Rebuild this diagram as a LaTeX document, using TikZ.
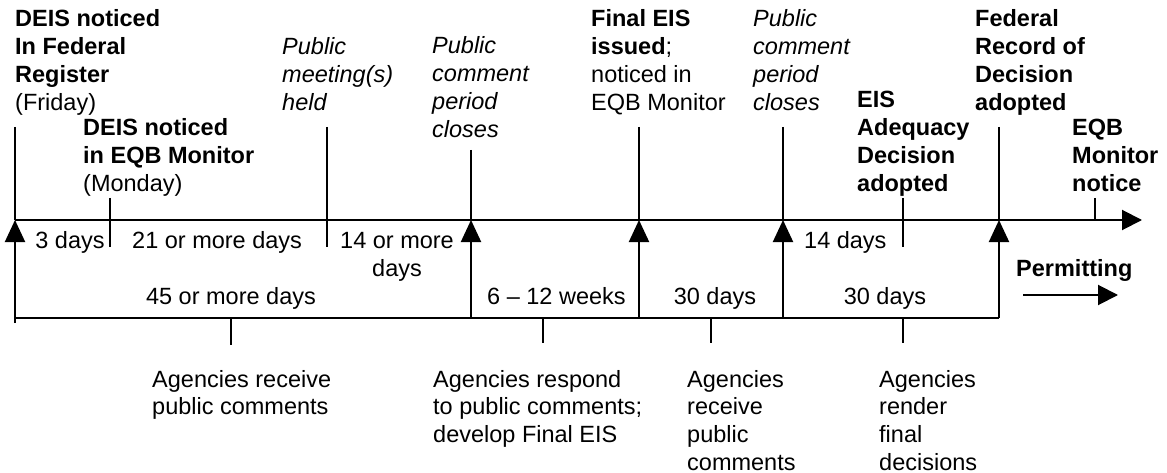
\documentclass[tikz,border=0pt]{standalone}
\usepackage{fontspec}
\setmainfont{Liberation Sans}
\usetikzlibrary{arrows.meta}

\tikzset{
  lbl/.style={align=left, anchor=base west, inner sep=0pt, font=\fontsize{23.5}{28}\selectfont},
  clbl/.style={lbl, align=center, anchor=base},
  ln/.style={line width=2pt},
  uparrow/.style={ln, -{Triangle[length=22pt, width=20pt]}},
  fwdarrow/.style={ln, -{Triangle[length=20pt, width=20pt]}}
}

\begin{document}
\begin{tikzpicture}[x=1pt, y=-1pt]
\useasboundingbox (0,0) rectangle (1167,473);

% event labels above the line (placed by their last line)
\node[lbl] (fri) at (15,111) {\textbf{DEIS noticed}\\\textbf{In Federal}\\\textbf{Register}\\(Friday)};
\node[lbl] (mon) at (83,192) {\textbf{DEIS noticed}\\\textbf{in EQB Monitor}\\(Monday)};
\node[lbl, font=\fontsize{23.5}{28}\selectfont\itshape] (meet) at (282,111) {Public\\meeting(s)\\held};
\node[lbl, font=\fontsize{23.5}{28}\selectfont\itshape] (close1) at (432,138) {Public\\comment\\period\\closes};
\node[lbl] (final) at (591,111) {\textbf{Final EIS}\\\textbf{issued};\\noticed in\\EQB Monitor};
\node[lbl, font=\fontsize{23.5}{28}\selectfont\itshape] (close2) at (753,111) {Public\\comment\\period\\closes};
\node[lbl, font=\fontsize{23.5}{28}\selectfont\bfseries] (adeq) at (857,192) {EIS\\Adequacy\\Decision\\adopted};
\node[lbl, font=\fontsize{23.5}{28}\selectfont\bfseries] (rod) at (975,111) {Federal\\Record of\\Decision\\adopted};
\node[lbl, font=\fontsize{23.5}{28}\selectfont\bfseries] (eqb) at (1072,192) {EQB\\Monitor\\notice};

% points on the time line
\coordinate (start) at (15,220);
\coordinate (end) at (1142,220);
\coordinate (t1) at (110,220);
\coordinate (t2) at (327,220);
\coordinate (t3) at (471,220);
\coordinate (t4) at (639,220);
\coordinate (t5) at (783,220);
\coordinate (t6) at (903,220);
\coordinate (t7) at (999,220);
\coordinate (t8) at (1095,220);
\coordinate (b0) at (15,323);
\coordinate (b3) at (471,318);
\coordinate (b4) at (639,318);
\coordinate (b5) at (783,318);
\coordinate (b7) at (999,318);

\draw[fwdarrow] (start) -- (end);
\draw[ln] (15,318) -- (b7);
\draw[ln] (15,127) -- (start);
\draw[ln] (110,198) -- (110,247);
\draw[ln] (327,127) -- (327,247);
\draw[ln] (471,150) -- (t3);
\draw[ln] (639,127) -- (t4);
\draw[ln] (783,127) -- (t5);
\draw[ln] (903,198) -- (903,247);
\draw[ln] (999,127) -- (t7);
\draw[ln] (1095,198) -- (t8);
\draw[uparrow] (b0) -- (start);
\draw[uparrow] (b3) -- (t3);
\draw[uparrow] (b4) -- (t4);
\draw[uparrow] (b5) -- (t5);
\draw[uparrow] (b7) -- (t7);

% durations
\node[clbl] (d3) at (70,248) {3 days};
\node[lbl] (d21) at (132,248) {21 or more days};
\node[clbl] (d14a) at (397,276) {14 or more\\days};
\node[lbl] (d14b) at (804,248) {14 days};
\node[clbl] (d45) at (231,304) {45 or more days};
\node[lbl] (dwk) at (487,304) {6 -- 12 weeks};
\node[clbl] (d30a) at (715,304) {30 days};
\node[clbl] (d30b) at (885,304) {30 days};

% permitting
\node[lbl, font=\fontsize{23.5}{28}\selectfont\bfseries] (perm) at (1016,276) {Permitting};
\coordinate (pa) at (1023,295);
\coordinate (pb) at (1118,295);
\draw[fwdarrow] (pa) -- (pb);

% agency work below the line
\coordinate (a1) at (231,318);
\coordinate (a2) at (543,318);
\coordinate (a3) at (711,318);
\coordinate (a4) at (903,318);
\draw[ln] (a1) -- (231,345);
\draw[ln] (a2) -- (543,343);
\draw[ln] (a3) -- (711,343);
\draw[ln] (a4) -- (903,343);
\node[lbl, font=\fontsize{23.5}{27.7}\selectfont] (ag1) at (152,414.7) {Agencies receive\\public comments};
\node[lbl, font=\fontsize{23.5}{27.7}\selectfont] (ag2) at (433,442.4) {Agencies respond\\to public comments;\\develop Final EIS};
\node[lbl, font=\fontsize{23.5}{27.7}\selectfont] (ag3) at (687,470.1) {Agencies\\receive\\public\\comments};
\node[lbl, font=\fontsize{23.5}{27.7}\selectfont] (ag4) at (879,470.1) {Agencies\\render\\final\\decisions};
\end{tikzpicture}
\end{document}
